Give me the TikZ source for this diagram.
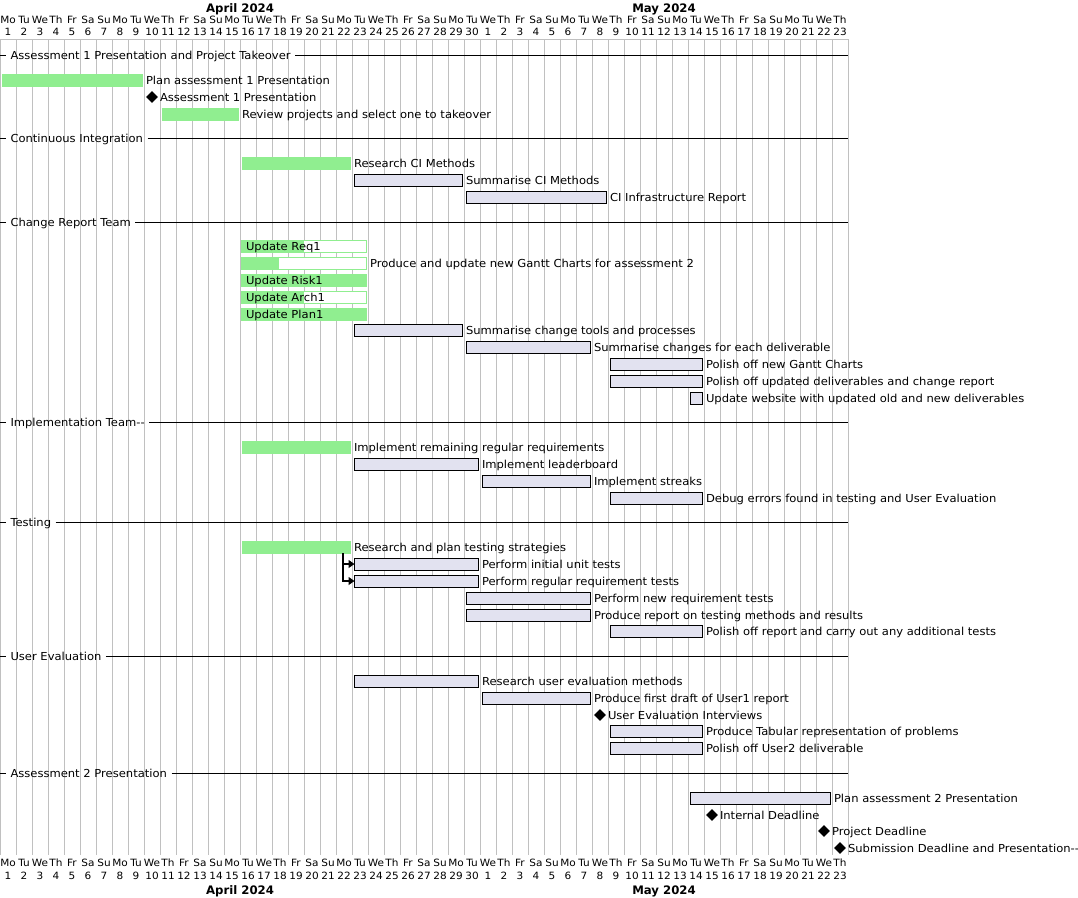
\documentclass[tikz,border=0pt]{standalone}
\usepackage{fontspec}
\setmainfont{DejaVu Sans}
\newfontfamily\lblfont{DejaVu Sans}[FakeStretch=1.05]
\usetikzlibrary{arrows.meta,shapes.geometric,calc}
\definecolor{lav}{HTML}{E2E2F0}
\definecolor{lgreen}{HTML}{90EE90}
\definecolor{gridc}{HTML}{C0C0C0}
\newcommand\gtask[5]{\node[gbar,minimum width={#3-#2-3}] (#1) at ({#2+2},#4) {};
  \node[lbl] (#1t) at ({#3+2},{#4+4}) {#5};}
\newcommand\ltask[5]{\node[lbar,minimum width={#3-#2-4}] (#1) at ({#2+2.5},#4) {};
  \node[lbl] (#1t) at ({#3+2},{#4+4}) {#5};}
\newcommand\pin[6]{\node[pbar,minimum width={#3-#2-3}] (#1) at ({#2+1.5},#4) {};
  \fill[lgreen] (#1.south west) rectangle ($(#1.north west)!#5!(#1.north east)$);
  \node[lbl] (#1t) at ({#2+6},{#4+4}) {#6};}
\newcommand\mtask[4]{\node[ms] (#1) at (#2,#3) {};
  \node[lbl] (#1t) at ({#2+8},{#3+4}) {#4};}
\newcommand\sect[3]{\node[secl] (#1) at (6,{#2+4}) {#3};
  \draw[sepl] (0,#2) -- (#1.west |- 0,#2);
  \draw[sepl] (#1.east |- 0,#2) -- (848,#2);}
\begin{document}
\begin{tikzpicture}[x=1pt,y=-1pt,
  lbl/.style={anchor=base west,inner sep=0,outer sep=0,font=\lblfont\fontsize{11}{13}\selectfont},
  secl/.style={anchor=base west,inner xsep=4.5,inner ysep=0,outer sep=0,font=\lblfont\fontsize{11}{13}\selectfont},
  hdr/.style={anchor=base,inner sep=0,font=\lblfont\fontsize{10}{12}\selectfont},
  mon/.style={anchor=base,inner sep=0,font=\fontsize{11.7}{13}\selectfont\bfseries},
  gbar/.style={anchor=west,fill=lgreen,minimum height=13,inner sep=0,outer sep=0},
  lbar/.style={anchor=west,fill=lav,draw=black,line width=1,minimum height=12,inner sep=0,outer sep=0},
  pbar/.style={anchor=west,fill=white,draw=lgreen,line width=1,minimum height=12,inner sep=0,outer sep=0},
  ms/.style={diamond,aspect=1,fill=black,minimum size=12,inner sep=0},
  sepl/.style={draw=black,line width=1},
  gridl/.style={draw=gridc,line width=1},
  dep/.style={draw=black,line width=1.3,-{Triangle[length=6,width=8]}}]
\useasboundingbox (0,0) rectangle (1078,897);
% grid
\foreach \k in {0,...,53} \draw[gridl] (16*\k,39) -- (16*\k,855);
\draw[gridl] (0,39) -- (848,39);
% headers
\foreach \k in {0,...,52}{
  \pgfmathsetmacro\dn{{"Mo","Tu","We","Th","Fr","Sa","Su"}[mod(\k,7)]}
  \pgfmathtruncatemacro\dd{\k<30 ? \k+1 : \k-29}
  \node[hdr] (dt\k) at (16*\k+8,23) {\dn};
  \node[hdr] (nt\k) at (16*\k+8,35.5) {\dd};
  \node[hdr] (db\k) at (16*\k+8,866) {\dn};
  \node[hdr] (nb\k) at (16*\k+8,879) {\dd};
}
\node[mon] (apt) at (240,12) {April 2024};
\node[mon] (myt) at (664,12) {May 2024};
\node[mon] (apb) at (240,894) {April 2024};
\node[mon] (myb) at (664,894) {May 2024};
% sections
\sect{s1}{55}{Assessment 1 Presentation and Project Takeover}
\sect{s2}{138}{Continuous Integration}
\sect{s3}{222}{Change Report Team}
\sect{s4}{422}{Implementation Team-\kern0pt-}
\sect{s5}{522}{Testing}
\sect{s6}{656}{User Evaluation}
\sect{s7}{773}{Assessment 2 Presentation}
% tasks
\gtask{t1}{0}{144}{80}{Plan assessment 1 Presentation}
\mtask{t2}{152}{97}{Assessment 1 Presentation}
\gtask{t3}{160}{240}{114}{Review projects and select one to takeover}
\gtask{t4}{240}{352}{163}{Research CI Methods}
\ltask{t5}{352}{464}{180}{Summarise CI Methods}
\ltask{t6}{464}{608}{197}{CI Infrastructure Report}
\pin{t7}{240}{368}{246}{0.5}{Update Req1}
\pin{t8}{240}{368}{263}{0.3}{}
\node[lbl] (t8o) at (370,267) {Produce and update new Gantt Charts for assessment 2};
\pin{t9}{240}{368}{280}{1}{Update Risk1}
\pin{t10}{240}{368}{297}{0.5}{Update Arch1}
\pin{t11}{240}{368}{314}{1}{Update Plan1}
\ltask{t12}{352}{464}{330}{Summarise change tools and processes}
\ltask{t13}{464}{592}{347}{Summarise changes for each deliverable}
\ltask{t14}{608}{704}{364}{Polish off new Gantt Charts}
\ltask{t15}{608}{704}{381}{Polish off updated deliverables and change report}
\ltask{t16}{688}{704}{398}{Update website with updated old and new deliverables}
\gtask{t17}{240}{352}{447}{Implement remaining regular requirements}
\ltask{t18}{352}{480}{464}{Implement leaderboard}
\ltask{t19}{480}{592}{481}{Implement streaks}
\ltask{t20}{608}{704}{498}{Debug errors found in testing and User Evaluation}
\gtask{t21}{240}{352}{547}{Research and plan testing strategies}
\ltask{t22}{352}{480}{564}{Perform initial unit tests}
\ltask{t23}{352}{480}{581}{Perform regular requirement tests}
\ltask{t24}{464}{592}{598}{Perform new requirement tests}
\ltask{t25}{464}{592}{615}{Produce report on testing methods and results}
\ltask{t26}{608}{704}{631}{Polish off report and carry out any additional tests}
\ltask{t27}{352}{480}{681}{Research user evaluation methods}
\ltask{t28}{480}{592}{698}{Produce first draft of User1 report}
\mtask{t29}{600}{715}{User Evaluation Interviews}
\ltask{t30}{608}{704}{731}{Produce Tabular representation of problems}
\ltask{t31}{608}{704}{748}{Polish off User2 deliverable}
\ltask{t32}{688}{832}{798}{Plan assessment 2 Presentation}
\mtask{t33}{712}{815}{Internal Deadline}
\mtask{t34}{824}{831}{Project Deadline}
\mtask{t35}{840}{848}{Submission Deadline and Presentation-\kern0pt-}
% dependencies
\coordinate (a0) at (343,553);
\draw[dep] (a0) |- (t22.west);
\draw[dep] (a0) |- (t23.west);
\end{tikzpicture}
\end{document}
